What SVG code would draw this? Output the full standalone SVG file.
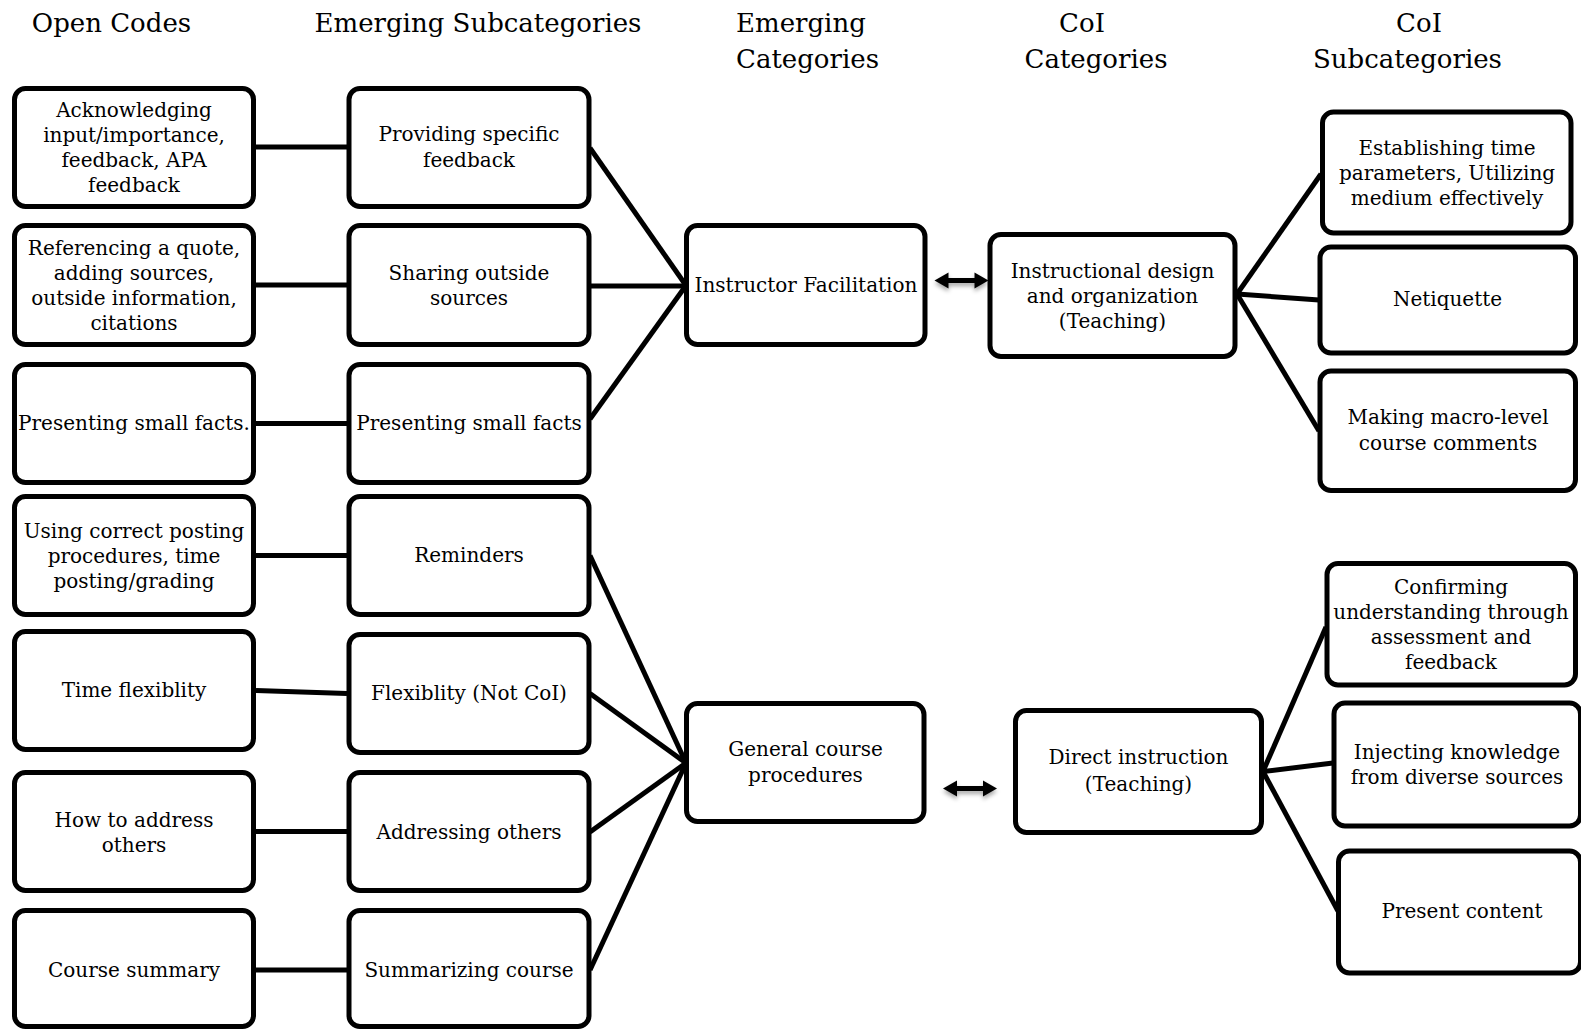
<svg xmlns="http://www.w3.org/2000/svg" xmlns:xlink="http://www.w3.org/1999/xlink" width="1581" height="1029" viewBox="0 0 1581 1029">
<style>
  .box { fill: #ffffff; stroke: #000000; stroke-width: 5; }
  .t { font-family: "DejaVu Serif", "Liberation Serif", serif; font-size: 20px; fill: #000; text-anchor: middle; }
  .h { font-family: "DejaVu Serif", "Liberation Serif", serif; font-size: 26px; fill: #000; text-anchor: middle; }
  .hs { text-anchor: start; }
  .ln { stroke: #000; stroke-width: 5; fill: none; stroke-linecap: butt; }
</style>
<defs>
  <filter id="sh" x="-20%" y="-50%" width="140%" height="250%">
    <feDropShadow dx="0" dy="3" stdDeviation="2" flood-color="#000" flood-opacity="0.35"/>
  </filter>
  <path id="dbl" d="M0,0 L14,-8 L14,-2.5 L40,-2.5 L40,-8 L54,0 L40,8 L40,2.5 L14,2.5 L14,8 Z" fill="#000"/>
</defs>
<rect width="1581" height="1029" fill="#fff"/>

<g id="headers">
  <text class="h" x="111.5" y="32">Open Codes</text>
  <text class="h" x="478" y="32">Emerging Subcategories</text>
  <text class="h hs" x="736" y="32">Emerging</text>
  <text class="h hs" x="736" y="68">Categories</text>
  <text class="h" x="1082" y="32">CoI</text>
  <text class="h" x="1096" y="68">Categories</text>
  <text class="h" x="1419" y="32">CoI</text>
  <text class="h" x="1407.5" y="68">Subcategories</text>
</g>

<g id="connectors">
  <line class="ln" x1="256" y1="147" x2="347" y2="147"/>
  <line class="ln" x1="256" y1="285" x2="347" y2="285"/>
  <line class="ln" x1="256" y1="423.5" x2="347" y2="423.5"/>
  <line class="ln" x1="256" y1="555.5" x2="347" y2="555.5"/>
  <line class="ln" x1="256" y1="690.5" x2="347" y2="693.5"/>
  <line class="ln" x1="256" y1="831.5" x2="347" y2="831.5"/>
  <line class="ln" x1="256" y1="970" x2="347" y2="970"/>

  <line class="ln" x1="590" y1="148" x2="686" y2="285.5"/>
  <line class="ln" x1="590" y1="286" x2="686" y2="286"/>
  <line class="ln" x1="590" y1="419" x2="686" y2="285.5"/>

  <line class="ln" x1="590" y1="555.5" x2="686" y2="763"/>
  <line class="ln" x1="590" y1="693.5" x2="686" y2="763"/>
  <line class="ln" x1="590" y1="832" x2="686" y2="763"/>
  <line class="ln" x1="590" y1="970" x2="686" y2="763"/>

  <line class="ln" x1="1237" y1="294" x2="1321" y2="174"/>
  <line class="ln" x1="1237" y1="294" x2="1319" y2="300"/>
  <line class="ln" x1="1237" y1="294" x2="1319" y2="431"/>

  <line class="ln" x1="1263" y1="771.5" x2="1326" y2="627"/>
  <line class="ln" x1="1263" y1="771.5" x2="1333" y2="763"/>
  <line class="ln" x1="1263" y1="771.5" x2="1338" y2="911"/>

  <use xlink:href="#dbl" href="#dbl" x="934.5" y="280.5" filter="url(#sh)"/>
  <use xlink:href="#dbl" href="#dbl" x="943" y="788.5" filter="url(#sh)"/>
</g>

<g id="n1"><rect class="box" x="14.5" y="88.5" width="239" height="118" rx="11"/>
  <text class="t" x="134" y="117">Acknowledging</text>
  <text class="t" x="134" y="142">input/importance,</text>
  <text class="t" x="134" y="167">feedback, APA</text>
  <text class="t" x="134" y="192">feedback</text></g>
<g id="n2"><rect class="box" x="14.5" y="225.5" width="239" height="119" rx="11"/>
  <text class="t" x="134" y="255">Referencing a quote,</text>
  <text class="t" x="134" y="280">adding sources,</text>
  <text class="t" x="134" y="305">outside information,</text>
  <text class="t" x="134" y="330">citations</text></g>
<g id="n3"><rect class="box" x="14.5" y="364.5" width="239" height="118" rx="11"/>
  <text class="t" x="134" y="430">Presenting small facts.</text></g>
<g id="n4"><rect class="box" x="14.5" y="496.5" width="239" height="118" rx="11"/>
  <text class="t" x="134" y="538">Using correct posting</text>
  <text class="t" x="134" y="563">procedures, time</text>
  <text class="t" x="134" y="588">posting/grading</text></g>
<g id="n5"><rect class="box" x="14.5" y="631.5" width="239" height="118" rx="11"/>
  <text class="t" x="134" y="697">Time flexiblity</text></g>
<g id="n6"><rect class="box" x="14.5" y="772.5" width="239" height="118" rx="11"/>
  <text class="t" x="134" y="826.5">How to address</text>
  <text class="t" x="134" y="851.5">others</text></g>
<g id="n7"><rect class="box" x="14.5" y="910.5" width="239" height="116" rx="11"/>
  <text class="t" x="134" y="976.5">Course summary</text></g>

<g id="s1"><rect class="box" x="349" y="88.5" width="240" height="118" rx="11"/>
  <text class="t" x="469" y="141">Providing specific</text>
  <text class="t" x="469" y="166.5">feedback</text></g>
<g id="s2"><rect class="box" x="349" y="225.5" width="240" height="119" rx="11"/>
  <text class="t" x="469" y="279.5">Sharing outside</text>
  <text class="t" x="469" y="304.5">sources</text></g>
<g id="s3"><rect class="box" x="349" y="364.5" width="240" height="118" rx="11"/>
  <text class="t" x="469" y="430">Presenting small facts</text></g>
<g id="s4"><rect class="box" x="349" y="496.5" width="240" height="118" rx="11"/>
  <text class="t" x="469" y="562">Reminders</text></g>
<g id="s5"><rect class="box" x="349" y="634.5" width="240" height="118" rx="11"/>
  <text class="t" x="469" y="700">Flexiblity (Not CoI)</text></g>
<g id="s6"><rect class="box" x="349" y="772.5" width="240" height="118" rx="11"/>
  <text class="t" x="469" y="838.5">Addressing others</text></g>
<g id="s7"><rect class="box" x="349" y="910.5" width="240" height="116" rx="11"/>
  <text class="t" x="469" y="976.5">Summarizing course</text></g>

<g id="instructor-facilitation"><rect class="box" x="686.5" y="225.5" width="238.5" height="119" rx="11"/>
  <text class="t" x="806" y="292">Instructor Facilitation</text></g>
<g id="general-course-procedures"><rect class="box" x="686.5" y="703.5" width="237.5" height="118" rx="11"/>
  <text class="t" x="805.5" y="756">General course</text>
  <text class="t" x="805.5" y="782">procedures</text></g>

<g id="instructional-design"><rect class="box" x="990" y="234.5" width="245" height="122" rx="11"/>
  <text class="t" x="1112.5" y="277.5">Instructional design</text>
  <text class="t" x="1112.5" y="303">and organization</text>
  <text class="t" x="1112.5" y="328">(Teaching)</text></g>
<g id="direct-instruction"><rect class="box" x="1015.5" y="710.5" width="246" height="122" rx="11"/>
  <text class="t" x="1138.5" y="764">Direct instruction</text>
  <text class="t" x="1138.5" y="791">(Teaching)</text></g>

<g id="establishing"><rect class="box" x="1322.5" y="112" width="248.5" height="121" rx="11"/>
  <text class="t" x="1447" y="155">Establishing time</text>
  <text class="t" x="1447" y="180">parameters, Utilizing</text>
  <text class="t" x="1447" y="205">medium effectively</text></g>
<g id="netiquette"><rect class="box" x="1320" y="247" width="255.5" height="106" rx="11"/>
  <text class="t" x="1447.5" y="306">Netiquette</text></g>
<g id="macro-level"><rect class="box" x="1320" y="371" width="255.5" height="119.5" rx="11"/>
  <text class="t" x="1448" y="424">Making macro-level</text>
  <text class="t" x="1448" y="450">course comments</text></g>
<g id="confirming"><rect class="box" x="1327" y="563.5" width="248.5" height="121.5" rx="11"/>
  <text class="t" x="1451" y="593.5">Confirming</text>
  <text class="t" x="1451" y="618.5">understanding through</text>
  <text class="t" x="1451" y="644">assessment and</text>
  <text class="t" x="1451" y="669">feedback</text></g>
<g id="injecting"><rect class="box" x="1334" y="703" width="246.5" height="123" rx="11"/>
  <text class="t" x="1457" y="758.5">Injecting knowledge</text>
  <text class="t" x="1457" y="784">from diverse sources</text></g>
<g id="present-content"><rect class="box" x="1338.5" y="851" width="242" height="122" rx="11"/>
  <text class="t" x="1462" y="918">Present content</text></g>
</svg>
